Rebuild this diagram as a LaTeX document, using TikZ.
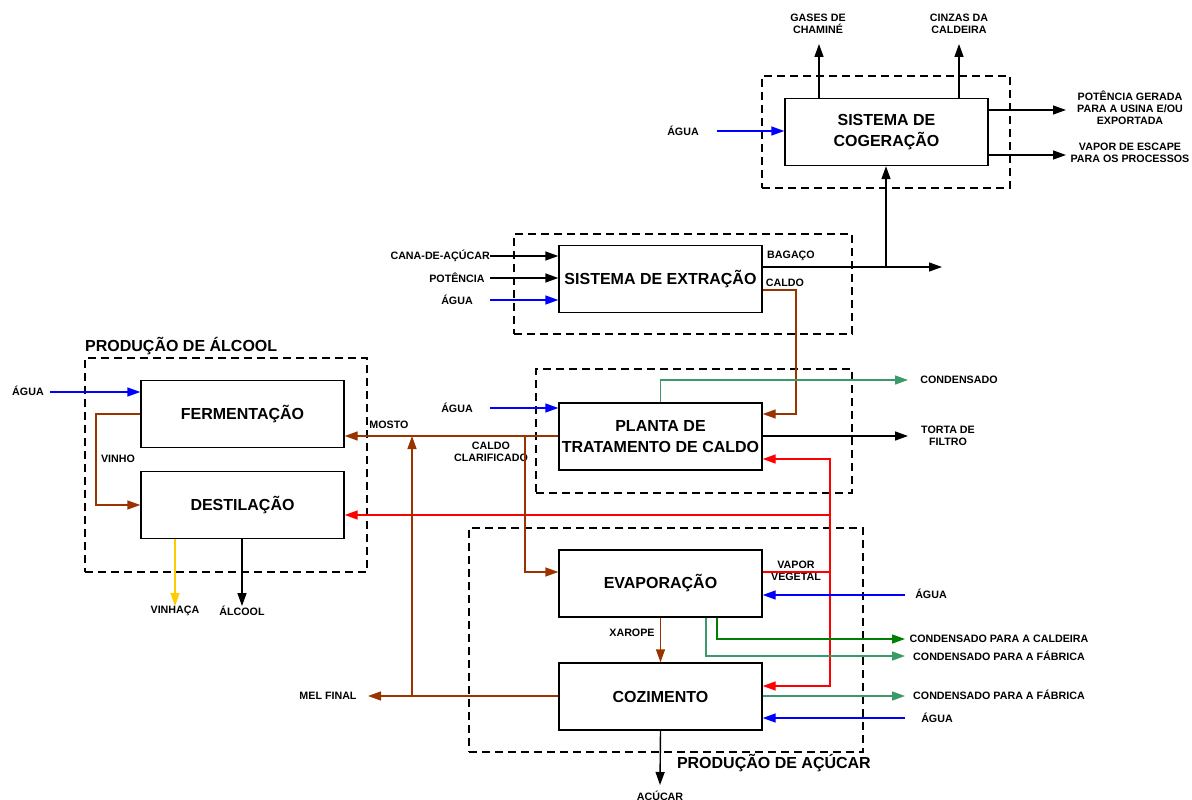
\documentclass[tikz,border=0pt]{standalone}
\usepackage{fontspec}
\setmainfont{Liberation Sans}
\usetikzlibrary{arrows.meta}
\definecolor{brn}{HTML}{993300}
\definecolor{sgr}{HTML}{3C9A6A}
\definecolor{dgr}{HTML}{008000}
\definecolor{ylw}{HTML}{FFCC00}
\tikzset{
  box/.style={draw, line width=1.4pt, minimum width=203pt, minimum height=67pt, inner sep=0pt,
    font=\bfseries\fontsize{16}{20.5}\selectfont, align=center},
  grp/.style={draw, dash pattern=on 8pt off 5pt, line width=1.3pt, inner sep=0pt},
  lbl/.style={font=\bfseries\fontsize{10.7}{12}\selectfont, align=center, inner sep=1pt},
  big/.style={font=\bfseries\fontsize{16}{20}\selectfont, inner sep=0pt},
  ln/.style={line width=1.4pt},
  flow/.style={line width=1.4pt, -{Triangle[length=13pt,width=9pt]}},
}
\begin{document}
\begin{tikzpicture}[x=1pt,y=-1pt]
\useasboundingbox (0,0) rectangle (1192,800);
% groups
\node[grp, minimum width=248pt, minimum height=112pt] (gcog) at (886,132) {};
\node[grp, minimum width=338pt, minimum height=100pt] (gext) at (683,284) {};
\node[grp, minimum width=316pt, minimum height=124pt] (gpla) at (694,431) {};
\node[grp, minimum width=282pt, minimum height=214pt] (galc) at (226,465) {};
\node[grp, minimum width=394pt, minimum height=224pt] (gsug) at (666,640) {};
% boxes
\node[box] (cog) at (886.5,132) {SISTEMA DE\\COGERAÇÃO};
\node[box] (ext) at (660.5,279) {SISTEMA DE EXTRAÇÃO};
\node[box] (pla) at (660.5,436.5) {PLANTA DE\\TRATAMENTO DE CALDO};
\node[box] (fer) at (242.5,414) {FERMENTAÇÃO};
\node[box] (des) at (242.5,505) {DESTILAÇÃO};
\node[box] (eva) at (660.5,583.5) {EVAPORAÇÃO};
\node[box] (coz) at (660.5,696.5) {COZIMENTO};
% labels
\node[lbl] (gases) at (818,24) {GASES DE\\CHAMINÉ};
\node[lbl] (cinzas) at (959,24) {CINZAS DA\\CALDEIRA};
\node[lbl] (pot) at (1130,108) {POTÊNCIA GERADA\\PARA A USINA E/OU\\EXPORTADA};
\node[lbl] (vap) at (1130,153) {VAPOR DE ESCAPE\\PARA OS PROCESSOS};
\node[lbl] (agua1) at (683,131) {ÁGUA};
\node[lbl, anchor=east, inner sep=0pt] (cana) at (490,256) {CANA-DE-AÇÚCAR};
\node[lbl] (potin) at (457,278) {POTÊNCIA};
\node[lbl] (agua2) at (457,300) {ÁGUA};
\node[lbl] (bagaco) at (791,256) {BAGAÇO};
\node[lbl] (caldo) at (785,283) {CALDO};
\node[lbl] (cond) at (959,380) {CONDENSADO};
\node[lbl] (agua3) at (457,408) {ÁGUA};
\node[lbl] (torta) at (948,436) {TORTA DE\\FILTRO};
\node[lbl] (mosto) at (389,425) {MOSTO};
\node[lbl] (cclar) at (491,452) {CALDO\\CLARIFICADO};
\node[big, anchor=west] (palc) at (85,346) {PRODUÇÃO DE ÁLCOOL};
\node[lbl] (agua4) at (28,391) {ÁGUA};
\node[lbl] (vinho) at (118,459) {VINHO};
\node[lbl] (vinhaca) at (175,611) {VINHAÇA};
\node[lbl] (alcool) at (242,611) {ÁLCOOL};
\node[lbl] (vveg) at (796,571) {VAPOR\\VEGETAL};
\node[lbl] (agua5) at (931,594) {ÁGUA};
\node[lbl] (cpc) at (999,639) {CONDENSADO PARA A CALDEIRA};
\node[lbl] (cpf1) at (999,656) {CONDENSADO PARA A FÁBRICA};
\node[lbl] (xarope) at (632,633) {XAROPE};
\node[lbl] (mel) at (328,696) {MEL FINAL};
\node[lbl] (cpf2) at (999,695) {CONDENSADO PARA A FÁBRICA};
\node[lbl] (agua6) at (937,718) {ÁGUA};
\node[lbl] (acucar) at (660,797) {AÇÚCAR};
\node[big, anchor=east] (pacu) at (871,763) {PRODUÇÃO DE AÇÚCAR};
% cogeneration
\draw[flow] (cog.north -| 819,0) -- (819,44);
\draw[flow] (cog.north -| 959,0) -- (959,44);
\draw[flow] (cog.east |- 0,110) -- (1066,110);
\draw[flow] (cog.east |- 0,155) -- (1066,155);
\draw[flow, blue] (717,131) -- (cog.west |- 0,131);
% extraction
\draw[flow] (cana.east) -- (ext.west |- 0,256);
\draw[flow] (490,278) -- (ext.west |- 0,278);
\draw[flow, blue] (490,300) -- (ext.west |- 0,300);
\draw[flow] (ext.east |- 0,267) -- (942,267);
\draw[flow] (886,267) -- (cog.south -| 886,0);
\draw[flow, brn] (ext.east |- 0,290) -- (796,290) -- (796,414) -- (pla.east |- 0,414);
% planta
\draw[flow, sgr] (pla.north) |- (908,380);
\draw[flow, blue] (490,408) -- (pla.west |- 0,408);
\draw[flow] (pla.east |- 0,436) -- (908,436);
\draw[ln, red] (eva.east |- 0,572) -- (830,572);
\draw[flow, red] (830,572) |- (pla.east |- 0,459);
\draw[flow, red] (830,515) -- (des.east |- 0,515);
\draw[flow, red] (830,572) |- (coz.east |- 0,686);
\draw[flow, brn] (pla.west |- 0,436) -- (fer.east |- 0,436);
\draw[flow, brn] (525,436) |- (eva.west |- 0,572);
\draw[flow, brn] (coz.west |- 0,696) -- (368,696);
\draw[flow, brn] (412,696) -- (412,436);
\draw[flow, brn] (eva.south) -- (coz.north);
% alcohol
\draw[flow, blue] (50,392) -- (fer.west |- 0,392);
\draw[flow, brn] (fer.west |- 0,414) -- (96,414) -- (96,505) -- (des.west |- 0,505);
\draw[flow, ylw] (des.south -| 175,0) -- (175,606);
\draw[flow] (des.south -| 242,0) -- (242,606);
% sugar
\draw[flow, blue] (905,595) -- (eva.east |- 0,595);
\draw[flow, dgr] (eva.south -| 717,0) |- (905,639);
\draw[flow, sgr] (eva.south -| 706,0) |- (905,656);
\draw[flow, sgr] (coz.east |- 0,696) -- (905,696);
\draw[flow, blue] (905,718) -- (coz.east |- 0,718);
\draw[flow] (coz.south) -- (660,785);
\end{tikzpicture}
\end{document}
